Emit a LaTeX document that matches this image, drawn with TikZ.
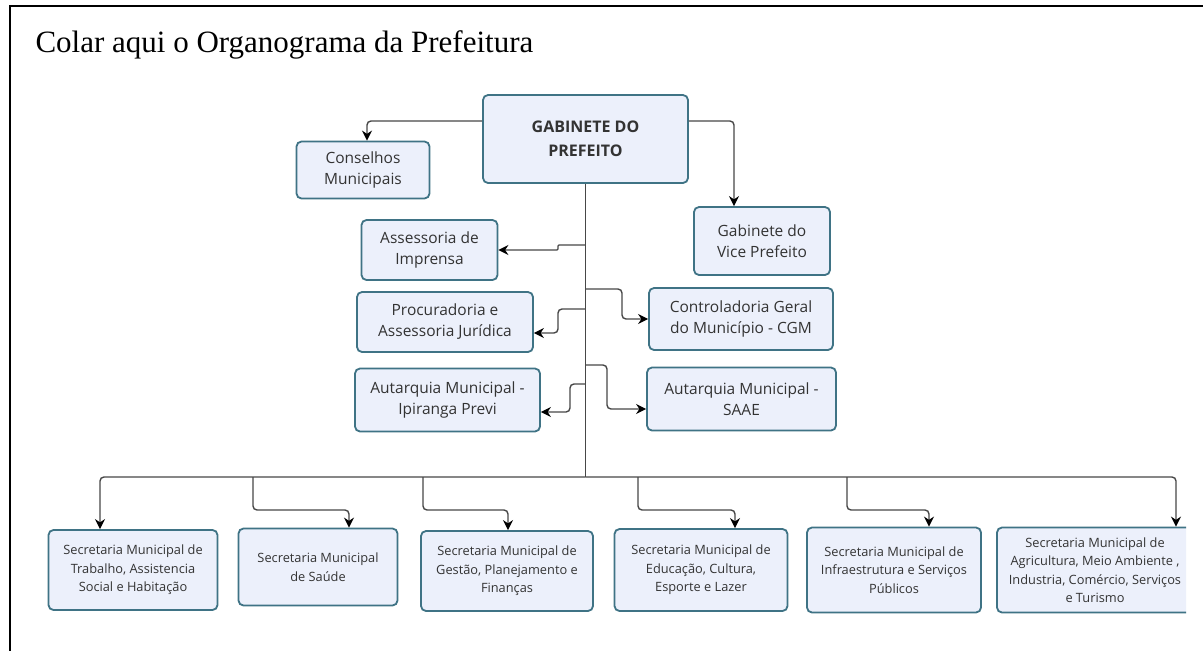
\documentclass[tikz,border=0pt]{standalone}
\usepackage{fontspec}
\setmainfont{Liberation Serif}
\newfontfamily\orgfont{Open Sans}
\usetikzlibrary{arrows.meta}
\definecolor{boxline}{HTML}{3F7385}
\definecolor{boxfill}{HTML}{ECF0FB}
\definecolor{linha}{HTML}{474747}
\definecolor{texto}{HTML}{333333}

\begin{document}
\begin{tikzpicture}[x=1pt,y=-1pt]
            \tikzset{
                orgbox/.style={draw=boxline,fill=boxfill,line width=1.8pt,rounded corners=5pt,align=center,inner sep=0pt,text=texto,font=\orgfont\fontsize{15.5}{21}\selectfont},
                secbox/.style={orgbox,font=\orgfont\fontsize{12.8}{18.5}\selectfont},
                conn/.style={draw=linha,line width=1.4pt,rounded corners=4pt,-{Stealth[length=10pt,width=10pt,black]}},}
            \useasboundingbox[fill=white] (0,0) rectangle (1203,651);
            \draw [line width=2pt](10,651) -- (10,6) -- (1203,6);
            \node[anchor=base west,font=\fontsize{31}{34}\selectfont] (titulo) at (32,52) {Colar aqui o Organograma da Prefeitura};
            \begin{scope}
                \clip (0,0) rectangle (1186,651);
                % topo
                \node[orgbox,minimum width=205pt,minimum height=88pt,font=\orgfont\bfseries\fontsize{16}{24}\selectfont] (gab) at (585.5,139) {GABINETE DO\\PREFEITO};
                \node[orgbox,minimum width=133pt,minimum height=57pt] (cons) at (363,170) {Conselhos\\Municipais};
                \node[orgbox,minimum width=136pt,minimum height=68pt] (vice) at (762,241) {Gabinete do\\Vice Prefeito};
                \node[orgbox,minimum width=136pt,minimum height=60pt] (imp) at (429.5,250) {Assessoria de\\Imprensa};
                \node[orgbox,minimum width=176pt,minimum height=60pt] (proc) at (445,322) {Procuradoria e\\Assessoria Jurídica};
                \node[orgbox,minimum width=184pt,minimum height=62pt] (cgm) at (741,319) {Controladoria Geral\\do Município - CGM};
                \node[orgbox,minimum width=185pt,minimum height=63pt] (prev) at (447.5,400) {Autarquia Municipal -\\Ipiranga Previ};
                \node[orgbox,minimum width=189pt,minimum height=63pt] (saae) at (741.5,399) {Autarquia Municipal -\\SAAE};
                % secretarias
                \node[secbox,minimum width=169pt,minimum height=80pt] (trab) at (133,570) {Secretaria Municipal de\\Trabalho, Assistencia\\Social e Habitação};
                \node[secbox,minimum width=159pt,minimum height=77pt] (saude) at (318,567) {Secretaria Municipal\\de Saúde};
                \node[secbox,minimum width=172pt,minimum height=80pt] (gest) at (507,571) {Secretaria Municipal de\\Gestão, Planejamento e\\Finanças};
                \node[secbox,minimum width=173pt,minimum height=82pt] (edu) at (701,570) {Secretaria Municipal de\\Educação, Cultura,\\Esporte e Lazer};
                \node[secbox,minimum width=174pt,minimum height=85pt] (infra) at (894,570) {Secretaria Municipal de\\Infraestrutura e Serviços\\Públicos};
                \node[secbox,minimum width=196pt,minimum height=85pt] (agri) at (1095,570) {Secretaria Municipal de\\Agricultura, Meio Ambiente ,\\Industria, Comércio, Serviços\\e Turismo};
                \coordinate (bus) at (585.5,477);
                % ligacoes
                \draw [draw=linha,line width=1.4pt](gab.south) -- (bus);
                \draw [conn](gab.west |- 0,121) -| (cons.north -| 367,0);
                \draw [conn](gab.east |- 0,121) -| (vice.north -| 734,0);
                \draw [conn,rounded corners=1pt](gab.south |- 0,245) -- (558,245) |- (imp.east);
                \draw [conn](gab.south |- 0,309) -- (558,309) |- (proc.east |- 0,333);
                \draw [conn](gab.south |- 0,289) -- (622,289) |- (cgm.west);
                \draw [conn](gab.south |- 0,384) -- (570,384) |- (prev.east |- 0,412);
                \draw [conn](gab.south |- 0,365) -- (607,365) |- (saae.west |- 0,409);
                \draw [conn](bus) -| (trab.north -| 100,0);
                \draw [conn](bus) -| (agri.north -| 1176,0);
                \draw [conn](bus -| 253,0) -- (253,510) -| (saude.north -| 349,0);
                \draw [conn](bus -| 423,0) -- (423,510) -| (gest.north -| 508,0);
                \draw [conn](bus -| 638,0) -- (638,510) -| (edu.north -| 735,0);
                \draw [conn](bus -| 847,0) -- (847,510) -| (infra.north -| 929,0);
            \end{scope}
        \end{tikzpicture}
\end{document}
